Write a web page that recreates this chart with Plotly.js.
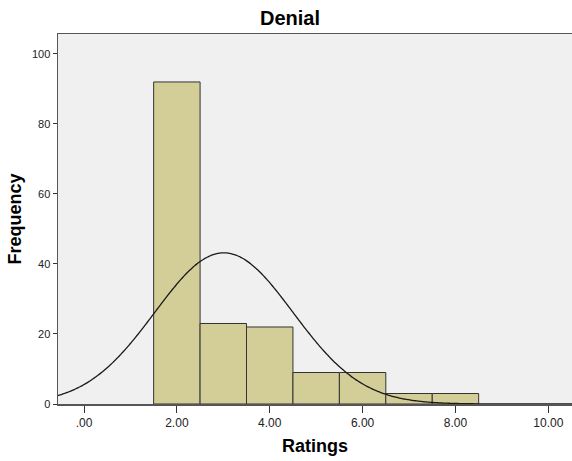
<!DOCTYPE html>
<html>
<head>
<meta charset="utf-8">
<script src="https://cdn.plot.ly/plotly-3.0.1.min.js"></script>
<style>html,body{margin:0;padding:0;background:#fff;}#chart{width:572px;height:461px;}</style>
</head>
<body>
<div id="chart"></div>
<script>
// Histogram bins (centres) and frequencies
const binCenters = [2, 3, 4, 5, 6, 7, 8];
const frequencies = [92, 23, 22, 9, 9, 3, 3];
const binWidth = 1;
const xTickVals = [0, 2, 4, 6, 8, 10];
const xTickText = ['.00', '2.00', '4.00', '6.00', '8.00', '10.00'];
const yTickVals = [0, 20, 40, 60, 80, 100];

// Fitted normal curve (as SPSS draws it) from the binned data
const n = frequencies.reduce((a, b) => a + b, 0);
const mean = binCenters.reduce((s, x, i) => s + x * frequencies[i], 0) / n;
const sd = Math.sqrt(binCenters.reduce((s, x, i) => s + frequencies[i] * (x - mean) ** 2, 0) / (n - 1));
const curveX = [], curveY = [];
for (let k = 0; k <= 300; k++) {
  const x = -0.7 + k * (11.3 / 300);
  curveX.push(x);
  curveY.push(n * binWidth / (sd * Math.sqrt(2 * Math.PI)) * Math.exp(-0.5 * ((x - mean) / sd) ** 2));
}

const FONT = 'Liberation Sans, Arial, sans-serif';
const traces = [
  {
    type: 'bar', x: binCenters, y: frequencies, width: binWidth,
    marker: {color: '#D3CE98', line: {color: '#333333', width: 1}},
    hoverinfo: 'none'
  },
  {
    type: 'scatter', mode: 'lines', x: curveX, y: curveY,
    line: {color: '#1a1a1a', width: 1.3, shape: 'spline'},
    hoverinfo: 'none'
  }
];

const layout = {
  width: 572, height: 461,
  margin: {l: 58, r: 0, t: 34, b: 57},
  paper_bgcolor: '#ffffff',
  plot_bgcolor: '#F0F0F0',
  showlegend: false,
  bargap: 0,
  title: {text: '<b>Denial</b>', x: 0.507, xanchor: 'center', y: 0.961, yanchor: 'middle',
          font: {family: FONT, size: 20, color: '#000'}},
  xaxis: {
    range: [-0.56, 10.51], tickvals: xTickVals, ticktext: xTickText,
    showgrid: false, zeroline: false,
    showline: true, linecolor: '#555555', linewidth: 1.5, mirror: true,
    ticks: 'outside', ticklen: 7, tickcolor: '#333', tickwidth: 1,
    tickfont: {family: FONT, size: 12, color: '#222'},
    title: {text: '<b>Ratings</b>', standoff: 10,
            font: {family: FONT, size: 18, color: '#000'}}
  },
  yaxis: {
    range: [0, 105.7], tickvals: yTickVals,
    showgrid: false, zeroline: false,
    showline: true, linecolor: '#555555', linewidth: 1.5,
    ticks: 'outside', ticklen: 4, tickcolor: '#333', tickwidth: 1,
    tickfont: {family: FONT, size: 11, color: '#222'},
    title: {text: '<b>Frequency</b>', standoff: 5,
            font: {family: FONT, size: 18, color: '#000'}}
  }
};

Plotly.newPlot('chart', traces, layout, {displayModeBar: false, staticPlot: true});
</script>
</body>
</html>
